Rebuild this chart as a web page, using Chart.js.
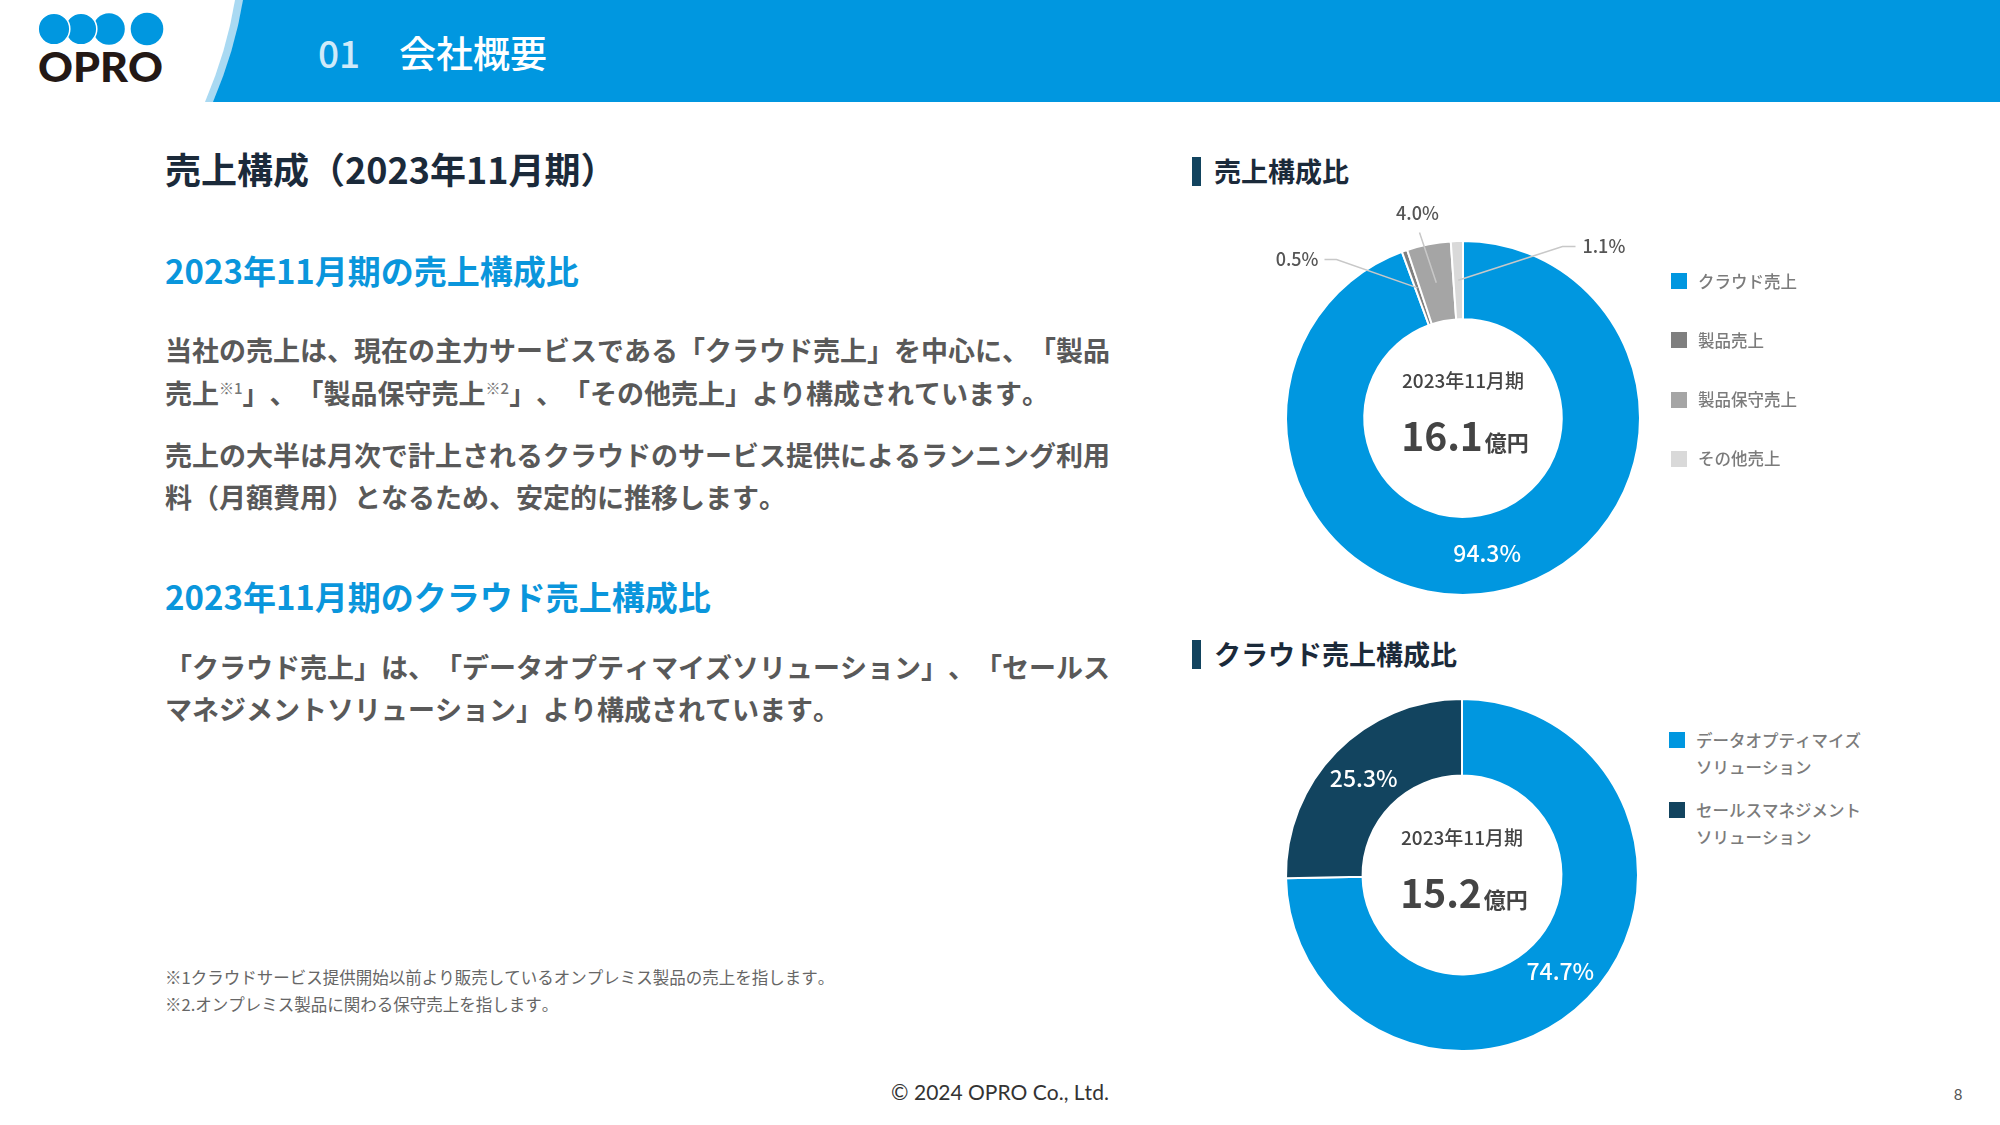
<!DOCTYPE html>
<html lang="ja">
<head>
<meta charset="utf-8">
<title>01 会社概要 - 売上構成（2023年11月期）</title>
<script src="https://cdn.jsdelivr.net/npm/chart.js@4.4.0/dist/chart.umd.min.js"></script>
<style>
    * { box-sizing: border-box; }
    html, body { margin: 0; padding: 0; }
    body {
        width: 2000px; height: 1125px; position: relative; overflow: hidden;
        background: #fff; font-family: "Noto Sans CJK JP", "Noto Sans", sans-serif;
        text-spacing-trim: space-all; font-kerning: none;
    }
    .abs { position: absolute; white-space: nowrap; }
    #header { position: absolute; left: 0; top: 0; }
    .hdr { top: 26px; font-size: 37px; line-height: 52px; font-weight: 500; }
    .hdr-num { left: 318px; color: #cfeaf9; }
    .hdr-title { left: 399px; color: #fff; }
    .title { left: 165px; top: 146px; font-size: 36px; line-height: 44px; font-weight: 700; color: #1b2a3a; }
    .sub { left: 165px; font-size: 33px; line-height: 44px; font-weight: 700; color: #0a96dc; }
    .para { left: 165px; font-size: 27px; line-height: 40px; font-weight: 700; color: #595959; }
    .sup { font-size: 15px; position: relative; top: -10px; font-weight: 500; color: #777; }
    .note { left: 165px; font-size: 16.5px; line-height: 24px; font-weight: 400; color: #666; }
    .side-head { left: 1214px; font-size: 27px; line-height: 36px; font-weight: 700; color: #1b2a3a; }
    .side-bar { position: absolute; left: 1192px; width: 9px; height: 29px; background: #12445f; }
    .legend { position: absolute; }
    .lg-item { position: relative; padding-left: 27px; font-size: 16.5px; line-height: 27px; font-weight: 500; color: #7b7b7b; white-space: nowrap; }
    .lg-box { position: absolute; left: 0; top: 5.5px; width: 16px; height: 16px; }
    #legend1 { left: 1671px; top: 267.5px; }
    #legend1 .lg-item { margin-bottom: 32.3px; }
    #legend2 { left: 1669px; top: 726.5px; }
    #legend2 .lg-item { margin-bottom: 16px; }
    canvas { position: absolute; }
    #salesChart { left: 1203px; top: 178px; }
    #cloudChart { left: 1262px; top: 675px; }
    .footer { left: 850px; top: 1079px; width: 300px; text-align: center; font-family: Lato, "Noto Sans", sans-serif; font-size: 21px; line-height: 26px; color: #333; }
    .page { left: 1948px; top: 1083px; width: 20px; text-align: center; font-family: Lato, sans-serif; font-size: 15px; line-height: 22px; color: #555; }
</style>
</head>
<body>

<svg id="header" width="2000" height="102" viewBox="0 0 2000 102">
    <rect x="0" y="0" width="2000" height="102" fill="#0097e0"/>
    <path d="M0,0 L243,0 Q235,50 213,102 L0,102 Z" fill="#a9d9f2"/>
    <path d="M0,0 L235,0 Q227,50 205,102 L0,102 Z" fill="#fff"/>
    <circle cx="109" cy="29" r="15.8" fill="#0097e0"/>
    <circle cx="81" cy="29" r="15.8" fill="#0097e0" stroke="#fff" stroke-width="1.5"/>
    <circle cx="54" cy="29" r="15.8" fill="#0097e0" stroke="#fff" stroke-width="1.5"/>
    <circle cx="147" cy="29" r="16.3" fill="#0097e0"/>
    <text x="38" y="82" textLength="125" lengthAdjust="spacingAndGlyphs"
          font-family="Lato, 'Noto Sans', sans-serif" font-weight="900" font-size="41" fill="#231815">OPRO</text>
</svg>
<div class="abs hdr hdr-num">01</div>
<div class="abs hdr hdr-title">会社概要</div>

<div class="abs title">売上構成（2023年11月期）</div>

<div class="abs sub" style="top:248px">2023年11月期の売上構成比</div>
<div class="abs para" style="top:330px">当社の売上は、現在の主力サービスである「クラウド売上」を中心に、「製品</div>
<div class="abs para" style="top:373px">売上<span class="sup">※1</span>」、「製品保守売上<span class="sup">※2</span>」、「その他売上」より構成されています。</div>
<div class="abs para" style="top:435px">売上の大半は月次で計上されるクラウドのサービス提供によるランニング利用</div>
<div class="abs para" style="top:477px">料（月額費用）となるため、安定的に推移します。</div>

<div class="abs sub" style="top:574px">2023年11月期のクラウド売上構成比</div>
<div class="abs para" style="top:647px">「クラウド売上」は、「データオプティマイズソリューション」、「セールス</div>
<div class="abs para" style="top:689px">マネジメントソリューション」より構成されています。</div>

<div class="abs note" style="top:965px">※1クラウドサービス提供開始以前より販売しているオンプレミス製品の売上を指します。</div>
<div class="abs note" style="top:992px">※2.オンプレミス製品に関わる保守売上を指します。</div>

<div class="side-bar" style="top:157px"></div>
<div class="abs side-head" style="top:153px">売上構成比</div>
<div class="side-bar" style="top:640px"></div>
<div class="abs side-head" style="top:636px">クラウド売上構成比</div>

<canvas id="salesChart" width="520" height="480"></canvas>
<canvas id="cloudChart" width="400" height="400"></canvas>
<div id="legend1" class="legend"></div>
<div id="legend2" class="legend"></div>

<div class="abs footer">© 2024 OPRO Co., Ltd.</div>
<div class="abs page">8</div>

<script>
// 売上構成比 (2023年11月期)
const periodLabel = "2023年11月期";
const unitLabel = "億円";

const salesLabels = ["クラウド売上", "製品売上", "製品保守売上", "その他売上"];
const salesValues = [94.3, 0.5, 4.0, 1.1];
const salesTotal = "16.1";

const cloudLabels = [["データオプティマイズ", "ソリューション"], ["セールスマネジメント", "ソリューション"]];
const cloudValues = [74.7, 25.3];
const cloudTotal = "15.2";

const salesColors = ["#0097e0", "#7f7f7f", "#a5a5a5", "#d9d9d9"];
const cloudColors = ["#0097e0", "#12445f"];

const FONT = "'Noto Sans CJK JP', 'Noto Sans', sans-serif";

// 小さい比率は外側にラベル + 引き出し線
const salesOutside = {
    1: {dx: -144.5, dy: -158.5, align: "right"},
    2: {dx: -45.5, dy: -204.5, align: "center"},
    3: {dx: 119.5, dy: -171.5, align: "left"},
};

const donutLabels = {
    id: "donutLabels",
    afterDatasetsDraw: (chart, args, opts) => {
        const {ctx} = chart;
        const meta = chart.getDatasetMeta(0);
        const values = chart.data.datasets[0].data;
        const cx = meta.data[0].x;
        const cy = meta.data[0].y;
        const outside = opts.outside || {};

        ctx.save();
        ctx.textBaseline = "middle";
        meta.data.forEach((arc, i) => {
            const text = values[i].toFixed(1) + "%";
            const c = arc.getCenterPoint();
            const out = outside[i];
            if (!out) {
                ctx.font = "500 23px " + FONT;
                ctx.fillStyle = "#fff";
                ctx.textAlign = "center";
                ctx.fillText(text, c.x, c.y);
                return;
            }
            const tx = cx + out.dx;
            const ty = cy + out.dy;
            ctx.strokeStyle = "#c8c8c8";
            ctx.lineWidth = 1.5;
            ctx.beginPath();
            if (out.align === "right") {
                ctx.moveTo(tx + 6, ty);
                ctx.lineTo(tx + 18, ty);
            } else if (out.align === "left") {
                ctx.moveTo(tx - 7, ty);
                ctx.lineTo(tx - 20, ty);
            } else {
                ctx.moveTo(tx + 2, ty + 19);
            }
            ctx.lineTo(c.x, c.y);
            ctx.stroke();

            ctx.font = "500 18px " + FONT;
            ctx.fillStyle = "#555";
            ctx.textAlign = out.align;
            ctx.fillText(text, tx, ty);
        });

        // 中央テキスト
        ctx.fillStyle = "#444";
        ctx.textAlign = "center";
        ctx.font = "500 19px " + FONT;
        ctx.fillText(periodLabel, cx, cy - 37);

        ctx.textBaseline = "alphabetic";
        ctx.textAlign = "left";
        ctx.font = "700 39px " + FONT;
        const w1 = ctx.measureText(opts.total).width;
        ctx.font = "700 22px " + FONT;
        const w2 = ctx.measureText(unitLabel).width;
        const x0 = cx - (w1 + w2 + 2) / 2 + 2;
        ctx.font = "700 39px " + FONT;
        ctx.fillText(opts.total, x0, cy + 33);
        ctx.font = "700 22px " + FONT;
        ctx.fillText(unitLabel, x0 + w1 + 2, cy + 33);
        ctx.restore();
    },
};

const generateDonut = (id, labels, values, colors, radius, cutout, total, outside) => {
    const ctx = document.getElementById(id).getContext("2d");
    return new Chart(ctx, {
        type: "doughnut",
        data: {
            labels: labels.map(l => [].concat(l).join("")),
            datasets: [{
                data: values,
                backgroundColor: colors,
                borderColor: "#fff",
                borderWidth: 2,
            }]
        },
        plugins: [donutLabels],
        options: {
            responsive: false,
            animation: false,
            devicePixelRatio: 1,
            radius: radius,
            cutout: cutout,
            layout: {padding: 0},
            plugins: {
                legend: {display: false},
                tooltip: {enabled: false},
                donutLabels: {total: total, outside: outside},
            },
        },
    });
};

const buildLegend = (id, labels, colors) => {
    const el = document.getElementById(id);
    labels.forEach((label, i) => {
        const item = document.createElement("div");
        item.className = "lg-item";
        const box = document.createElement("span");
        box.className = "lg-box";
        box.style.background = colors[i];
        item.appendChild(box);
        [].concat(label).forEach((line, j) => {
            if (j > 0) item.appendChild(document.createElement("br"));
            item.appendChild(document.createTextNode(line));
        });
        el.appendChild(item);
    });
};

generateDonut("salesChart", salesLabels, salesValues, salesColors, 177, "55.8%", salesTotal, salesOutside);
generateDonut("cloudChart", cloudLabels, cloudValues, cloudColors, 176, "56.5%", cloudTotal, {});
buildLegend("legend1", salesLabels, salesColors);
buildLegend("legend2", cloudLabels, cloudColors);
</script>
</body>
</html>
